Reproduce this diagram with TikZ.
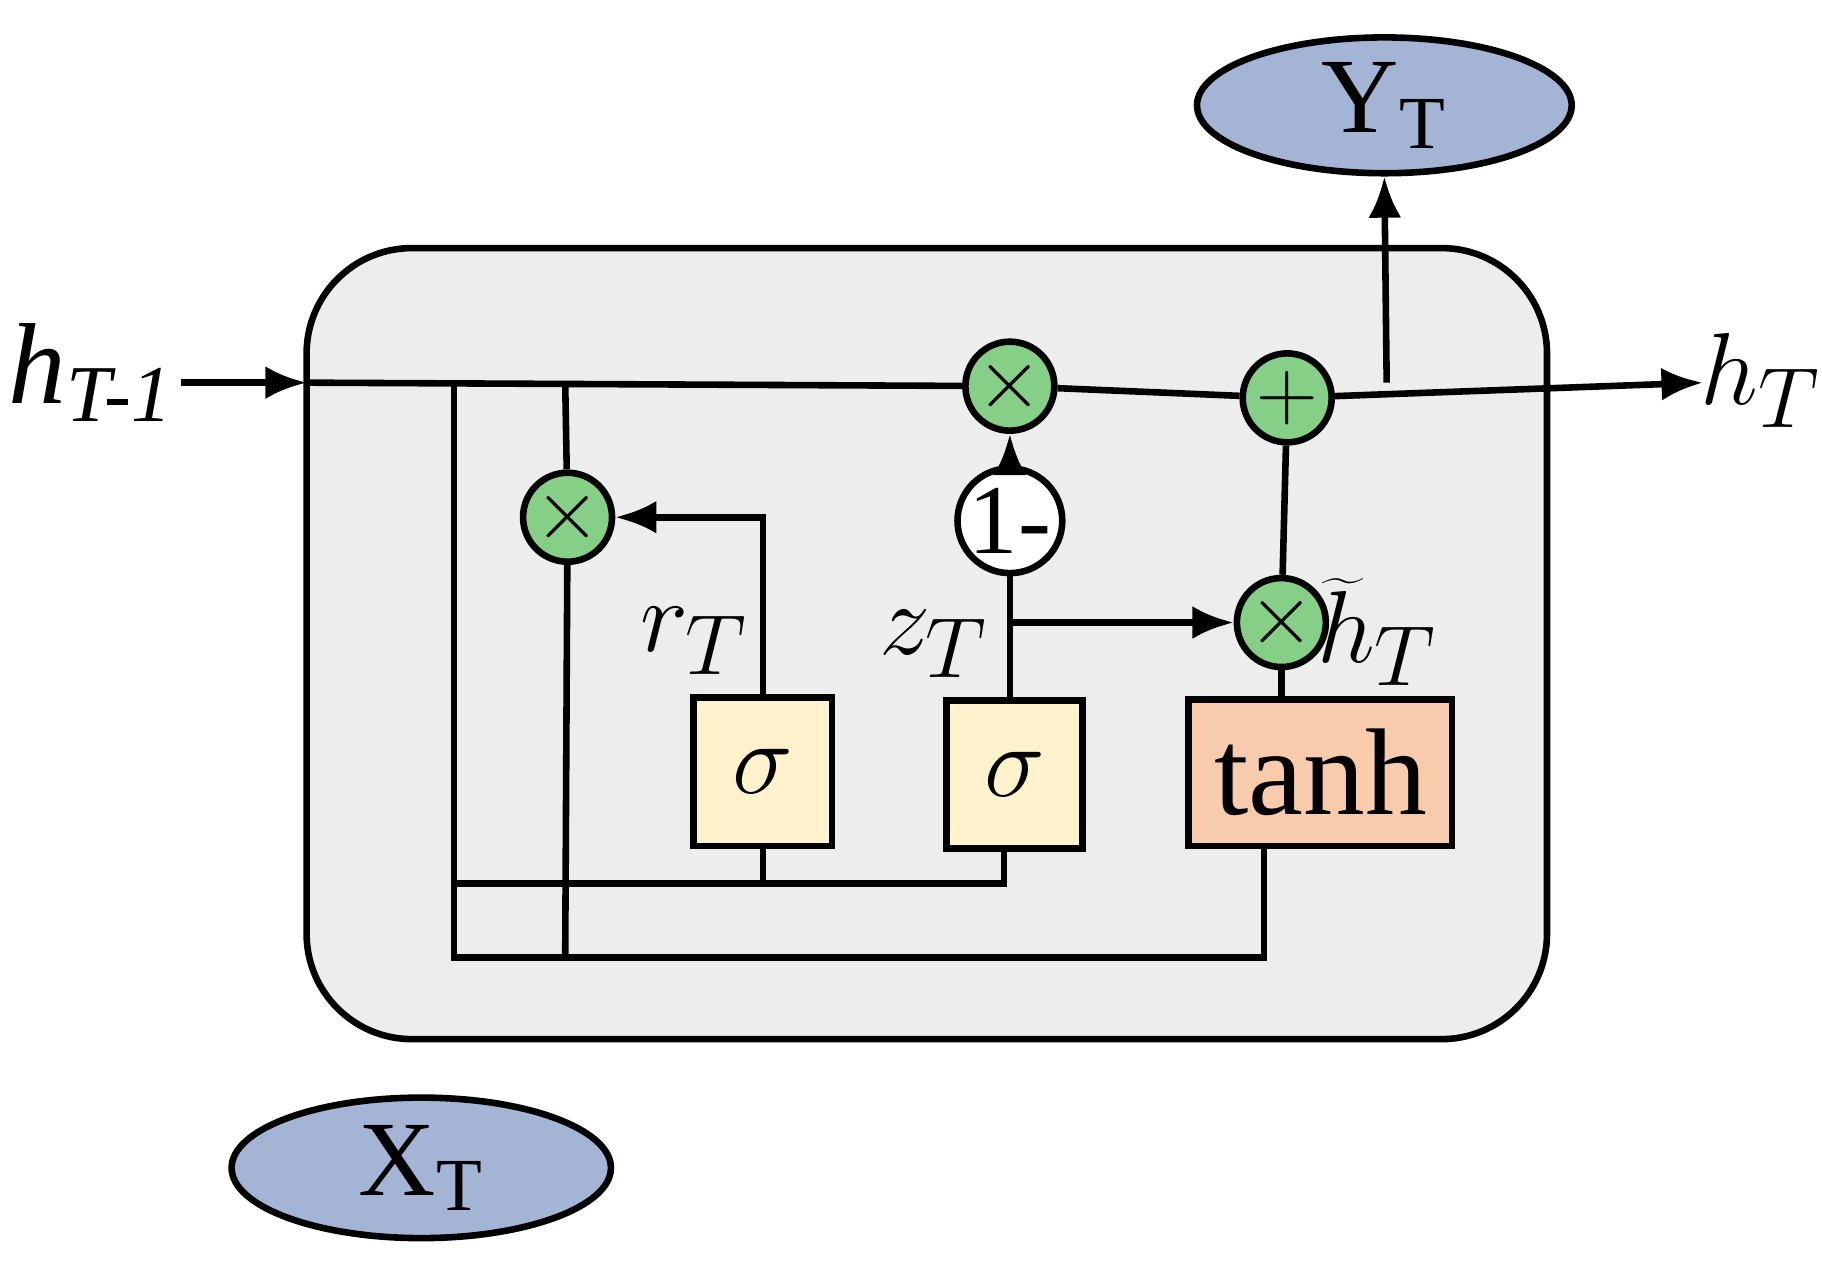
\documentclass[tikz,border=0pt]{standalone}
\usepackage{fontspec}
\setmainfont{Liberation Serif}
\usetikzlibrary{arrows.meta,shapes.geometric}
\begin{document}
\begin{tikzpicture}[x=0.01cm,y=-0.01cm,
  line width=1.6pt,
  arr/.style={-{Latex[length=10pt,width=8pt]}},
  op/.style={circle,draw,minimum size=0.76cm,inner sep=0pt,font=\fontsize{22}{22}\selectfont},
  box/.style={draw,anchor=north west,inner sep=0pt,font=\fontsize{26}{26}\selectfont},
  io/.style={ellipse,draw,inner sep=0pt,font=\fontsize{26}{26}\selectfont},
  lab/.style={font=\fontsize{28}{28}\selectfont}]
\useasboundingbox (0,0) rectangle (1557,1085);
\definecolor{gfill}{HTML}{86CF86}
\definecolor{sfill}{HTML}{FFF2CC}
\definecolor{tfill}{HTML}{F8CBAD}
\definecolor{efill}{HTML}{A3B4D4}
\draw[fill=gray!14,rounded corners=0.9cm] (262,212) rectangle (1322,888);
\node[io,fill=efill,minimum width=3.2cm,minimum height=1.16cm] (Y) at (1183,90) {Y\textsubscript{T}};
\node[io,fill=efill,minimum width=3.24cm,minimum height=1.2cm] (X) at (360,998) {X\textsubscript{T}};
\node[lab] (hin) at (78,318) {\textit{h}\textsubscript{\textit{T-1}}};
\node[lab] (hout) at (1505,325) {$h_T$};
\node[op,fill=gfill] (m1) at (863,330) {$\times$};
\node[op,fill=gfill] (p1) at (1100,340) {$+$};
\node[op,fill=gfill] (mr) at (485,442) {$\times$};
\node[op,fill=gfill] (mt) at (1095,532) {$\times$};
\node[op,fill=white,font=\fontsize{24}{24}\selectfont] (om) at (863,445) {1-};
\node[box,fill=sfill,minimum width=1.18cm,minimum height=1.27cm] (sr) at (590,593) {$\sigma$};
\node[box,fill=sfill,minimum width=1.16cm,minimum height=1.26cm] (sz) at (806,596) {$\sigma$};
\node[box,fill=tfill,minimum width=2.25cm,minimum height=1.25cm,font=\fontsize{30}{30}\selectfont] (th) at (1013,595) {tanh};
\node[lab] (rl) at (593,548) {$r_T$};
\node[lab] (zl) at (798,550) {$z_T$};
\node[lab] (hl) at (1177,540) {$\widetilde{h}_T$};
\coordinate (a) at (262,327);
\coordinate (b) at (1455,327);
\coordinate (yb) at (1185,327);
\coordinate (s) at (155,327);
\draw[arr] (s) -- (a);
\draw[arr] (a) -- (m1) -- (p1) -- (b);
\draw[arr] (yb) -- (Y.south);
\draw (388,327) -- (388,818) -- (1080,818) -- (1080,720);
\draw (483,327) -- (mr);
\draw (mr) -- (483,818);
\draw (388,755) -- (858,755) -- (858,722);
\draw (652,755) -- (652,720);
\draw[arr] (652,593) -- (652,442) -- (mr);
\draw (863,596) -- (om);
\draw[arr] (om) -- (m1);
\draw[arr] (863,532) -- (mt);
\draw (mt) -- (mt|-th.north);
\draw (mt) -- (p1);
\end{tikzpicture}
\end{document}
